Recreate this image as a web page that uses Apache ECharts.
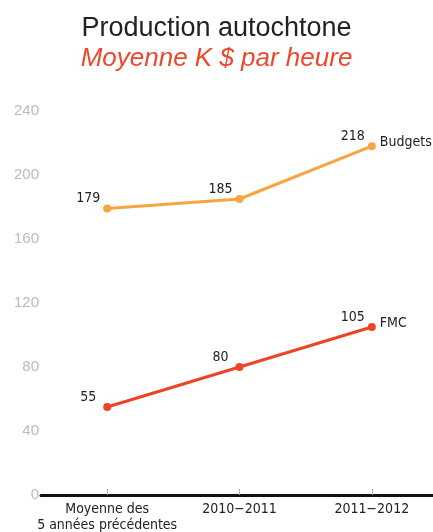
<!DOCTYPE html>
<html>
<head>
<meta charset="utf-8">
<script src="https://cdn.jsdelivr.net/npm/echarts@6/dist/echarts.min.js"></script>
<style>
  html, body { margin: 0; padding: 0; background: #fff; }
  #chart { width: 433px; height: 532px; }
</style>
</head>
<body>
<div id="chart"></div>
<script>
    // data
    var categories = ['Moyenne des\n5 années précédentes', '2010\u22122011', '2011\u22122012'];
    var budgets = [179, 185, 218];
    var fmc = [55, 80, 105];
    var seriesNames = ['Budgets', 'FMC'];

    var narrow = "'Liberation Sans Narrow', 'DejaVu Sans Condensed', sans-serif";

    var chart = echarts.init(document.getElementById('chart'));

    var makeSeries = function (name, values, color) {
        return {
            name: name,
            type: 'line',
            data: values,
            symbol: 'circle',
            symbolSize: 8,
            lineStyle: { color: color, width: 3 },
            itemStyle: { color: color },
            label: {
                show: true,
                position: 'top',
                distance: 4,
                offset: [-19, 5],
                color: '#222',
                fontSize: 14,
                fontFamily: narrow
            },
            endLabel: {
                show: true,
                formatter: '{a}',
                color: '#222',
                fontSize: 14,
                fontFamily: narrow,
                distance: 8,
                offset: [0, -4]
            },
            animation: false
        };
    };

    chart.setOption({
        backgroundColor: '#fff',
        title: [
            {
                text: 'Production autochtone',
                left: 'center',
                top: 10,
                textStyle: { color: '#222', fontSize: 27, fontWeight: 'normal', fontFamily: "'Liberation Sans', Arial, sans-serif" }
            },
            {
                text: 'Moyenne K $ par heure',
                left: 'center',
                top: 41,
                textStyle: { color: '#f0472c', fontSize: 26, fontStyle: 'italic', fontWeight: 'normal', fontFamily: "'Liberation Sans', Arial, sans-serif" }
            }
        ],
        grid: { left: 41, right: -5, top: 111, bottom: 37, containLabel: false, outerBoundsMode: 'none' },
        xAxis: {
            type: 'category',
            data: categories,
            boundaryGap: true,
            axisLine: { lineStyle: { color: '#111', width: 3 } },
            axisTick: { show: true, alignWithLabel: true, inside: true, length: 6, lineStyle: { color: '#aaa', width: 1 } },
            axisLabel: { color: '#222', fontSize: 14, fontFamily: narrow, margin: 6, lineHeight: 16, interval: 0 }
        },
        yAxis: {
            type: 'value',
            min: 0,
            max: 240,
            interval: 40,
            axisLine: { show: false },
            axisTick: { show: false },
            splitLine: { show: false },
            axisLabel: { color: '#bbb', fontSize: 15, margin: 2, fontFamily: "'Liberation Sans', Arial, sans-serif" }
        },
        series: [
            makeSeries(seriesNames[0], budgets, '#f7a541'),
            makeSeries(seriesNames[1], fmc, '#ef4326')
        ]
    });
</script>
</body>
</html>
